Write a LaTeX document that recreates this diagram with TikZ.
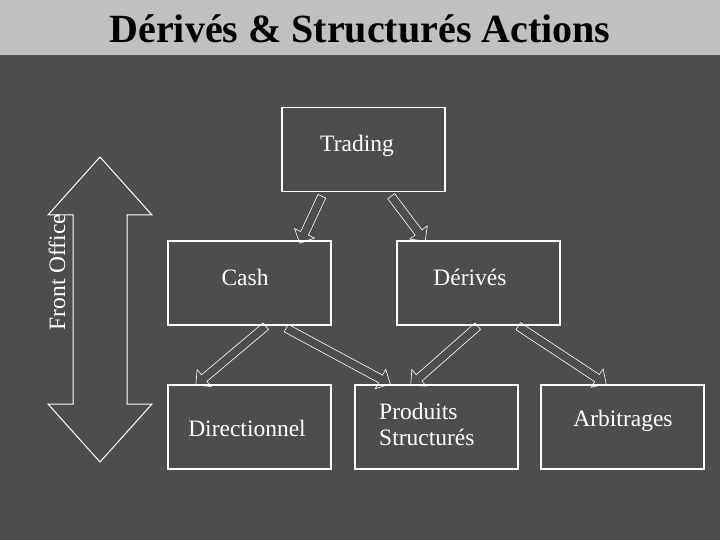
\documentclass[tikz,border=0pt]{standalone}
\usepackage{fontspec}
\setmainfont{Liberation Serif}
\usetikzlibrary{shapes.arrows,calc}
\definecolor{bg}{RGB}{77,77,77}
\definecolor{bar}{RGB}{192,192,192}
\tikzset{
  box/.style={draw=white,line width=1.5pt,minimum width=163pt,minimum height=84pt,anchor=north west},
  lbl/.style={text=white,font=\fontsize{23.5}{27}\selectfont,inner sep=0pt},
  barrow/.style={single arrow,draw=white,line width=0.6pt,minimum width=22pt,inner sep=3.5pt,
    single arrow head extend=6pt,single arrow head indent=0pt,anchor=tail}
}
\newcommand{\blockarrow}[3]{%
  \path let \p1=#2, \p2=#3, \n1={atan2(\y2-\y1,\x2-\x1)}, \n2={veclen(\x2-\x1,\y2-\y1)} in
    node[barrow,minimum height=\n2,rotate=\n1] (#1) at (\p1) {};}
\begin{document}
\begin{tikzpicture}[x=1pt,y=-1pt]
\fill[bg] (0,0) rectangle (720,540);
\fill[bar] (0,0) rectangle (720,55);
\useasboundingbox (0,0) rectangle (720,540);
\node[font=\bfseries\fontsize{40}{46}\selectfont,inner sep=0pt] (title) at (360,29) {Dérivés \& Structurés Actions};
\node[box] (trading) at (281,107) {};
\node[lbl] (tt) at (357,146) {Trading};
\node[box] (cash) at (167,240) {};
\node[lbl] (ct) at (245,277) {Cash};
\node[box] (deriv) at (396,240) {};
\node[lbl] (dt) at (470,277) {Dérivés};
\node[box] (dir) at (167,384) {};
\node[lbl] (dirt) at (247,428) {Directionnel};
\node[box] (prod) at (354,384) {};
\node[lbl,align=left,anchor=west] (pt) at (379,424) {Produits\\[-1pt]Structurés};
\node[box] (arb) at (540,384) {};
\node[lbl] (at) at (623,421) {Arbitrages};
\draw[white,line width=1pt,line join=miter] (100,157) -- (152,215) -- (127,215) -- (127,404) -- (152,404)
  -- (100,462) -- (48,404) -- (73,404) -- (73,215) -- (48,215) -- cycle;
\node[lbl,rotate=90] (fo) at (57,272) {Front Office};
\blockarrow{a1}{(322,196)}{(300,243)}
\blockarrow{a2}{(391,196)}{(425,241)}
\blockarrow{a3}{(266,326)}{(196,385)}
\blockarrow{a4}{(286,328)}{(390,384)}
\blockarrow{a5}{(478,326)}{(411,385)}
\blockarrow{a6}{(518,326)}{(606,384)}
\end{tikzpicture}
\end{document}
